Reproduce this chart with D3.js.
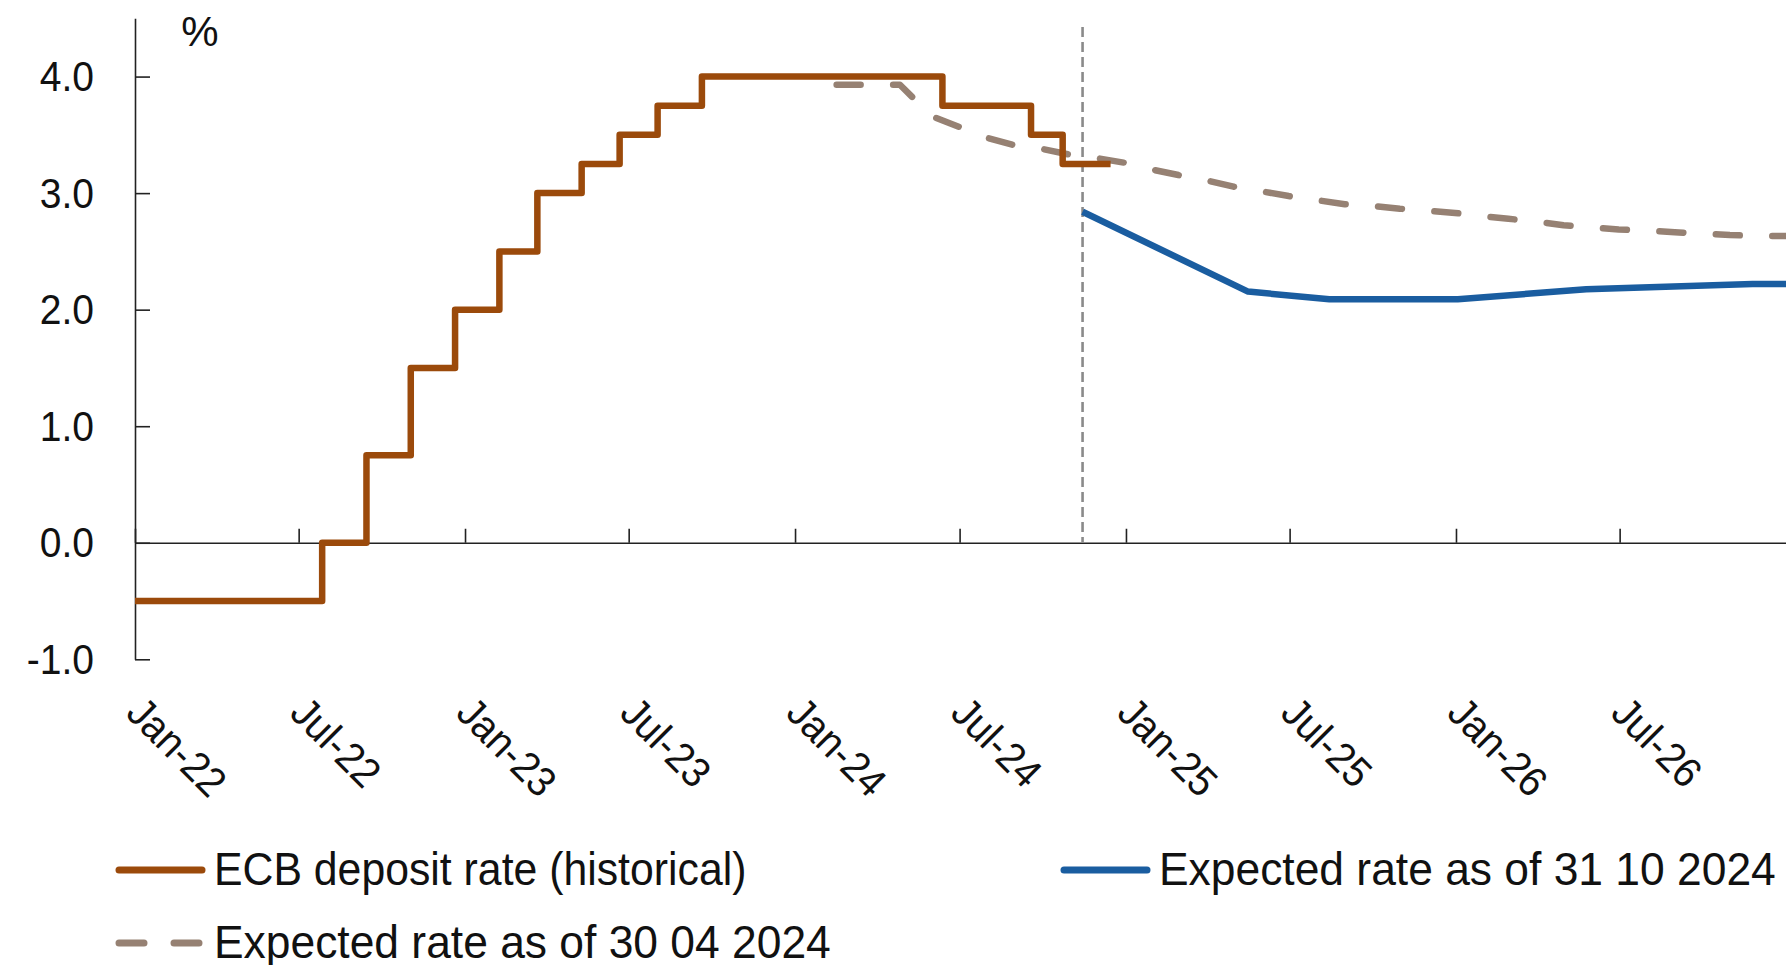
<!DOCTYPE html>
<html>
<head>
<meta charset="utf-8">
<script src="https://cdn.jsdelivr.net/npm/d3@7/dist/d3.min.js"></script>
<style>
  html, body { margin: 0; padding: 0; background: #fff; }
  svg { display: block; }
  text { font-family: "Liberation Sans", Arial, "DejaVu Sans", sans-serif; fill: #111; }
</style>
</head>
<body>
<svg id="chart" width="1786" height="965"></svg>
<script>
// ECB deposit facility rate, step changes (date the new rate applies)
const depositDates = ["2022-01-01", "2022-07-27", "2022-09-14", "2022-11-02", "2022-12-21",
  "2023-02-08", "2023-03-22", "2023-05-10", "2023-06-21", "2023-08-02", "2023-09-20",
  "2024-06-12", "2024-09-18", "2024-10-23", "2024-12-15"];
const depositRates = [-0.5, 0.0, 0.75, 1.5, 2.0, 2.5, 3.0, 3.25, 3.5, 3.75, 4.0, 3.75, 3.5, 3.25, 3.25];

// Market-implied path of the deposit rate as of 30 April 2024
const aprilDates = ["2024-02-16", "2024-04-26", "2024-05-31", "2024-06-30", "2024-07-31",
  "2024-08-31", "2024-09-30", "2024-10-31", "2024-11-30", "2024-12-31", "2025-01-31",
  "2025-02-28", "2025-03-31", "2025-04-30", "2025-05-31", "2025-06-30", "2025-07-31",
  "2025-08-31", "2025-09-30", "2025-10-31", "2025-11-30", "2025-12-31", "2026-01-31",
  "2026-02-28", "2026-03-31", "2026-04-30", "2026-05-31", "2026-06-30", "2026-07-31",
  "2026-08-31", "2026-09-30", "2026-10-31", "2026-11-30", "2027-01-01"];
const aprilRates = [3.93, 3.93, 3.66, 3.57, 3.475, 3.41, 3.38, 3.33, 3.30, 3.26, 3.20,
  3.155, 3.11, 3.055, 3.015, 2.975, 2.94, 2.905, 2.89, 2.866, 2.85, 2.83, 2.80,
  2.78, 2.755, 2.725, 2.705, 2.688, 2.678, 2.665, 2.652, 2.640, 2.634, 2.632];

// Market-implied path as of 31 October 2024
const octoberDates = ["2024-11-14", "2025-05-16", "2025-08-14", "2026-01-03", "2026-05-25",
  "2026-11-25", "2027-01-01"];
const octoberRates = [2.84, 2.155, 2.09, 2.09, 2.175, 2.22, 2.22];

// Separator between history and projection
const cutoffDate = "2024-11-14";

const xTickLabels = ["Jan-22", "Jul-22", "Jan-23", "Jul-23", "Jan-24", "Jul-24",
  "Jan-25", "Jul-25", "Jan-26", "Jul-26"];
const yTickValues = [-1, 0, 1, 2, 3, 4];
const yTickLabels = ["-1.0", "0.0", "1.0", "2.0", "3.0", "4.0"];
const unitLabel = "%";

const seriesNames = ["ECB deposit rate (historical)", "Expected rate as of 30 04 2024",
  "Expected rate as of 31 10 2024"];
const seriesColors = ["#9b4a0b", "#968173", "#1a5da0"];

const parseDate = d3.utcParse("%Y-%m-%d");
const parseTick = d3.utcParse("%b-%y");
const zip = (ds, vs) => ds.map((d, i) => ({ date: parseDate(d), value: vs[i] }));

const deposit = zip(depositDates, depositRates);
const april = zip(aprilDates, aprilRates);
const october = zip(octoberDates, octoberRates);

const svg = d3.select("#chart");

const x = d3.scaleUtc()
  .domain([parseDate("2022-01-01"), parseDate("2027-01-01")])
  .range([135, 1786]);
const y = d3.scaleLinear()
  .domain([-1, 4.5])
  .range([659.3, 18.3]);

const squeeze = "scale(0.93,1)";

// y axis: ticks point into the plot, labels on the left
const yAxis = svg.append("g")
  .attr("transform", `translate(${x.range()[0]},0)`)
  .call(d3.axisLeft(y)
    .tickValues(yTickValues)
    .tickFormat((d, i) => yTickLabels[i])
    .tickSizeInner(-15)
    .tickSizeOuter(0)
    .tickPadding(0));
yAxis.selectAll("path, line").attr("stroke", "#222").attr("stroke-width", 1.6);
yAxis.selectAll("text")
  .attr("x", null).attr("dy", null)
  .attr("font-size", 42)
  .attr("text-anchor", "end")
  .attr("transform", "translate(-41,14) " + squeeze);

// x axis along the zero line, ticks pointing up, rotated labels below the plot
const xTicks = xTickLabels.map(parseTick);
const xAxis = svg.append("g")
  .attr("transform", `translate(0,${y(0)})`)
  .call(d3.axisBottom(x)
    .tickValues(xTicks)
    .tickFormat((d, i) => xTickLabels[i])
    .tickSizeInner(-14)
    .tickSizeOuter(0));
xAxis.selectAll("path, line").attr("stroke", "#222").attr("stroke-width", 1.6);
xAxis.selectAll("text")
  .attr("y", null).attr("dy", null)
  .attr("font-size", 42)
  .attr("text-anchor", "start")
  .attr("transform", `translate(-11,${715 - y(0)}) rotate(45) ` + squeeze);

// unit label
svg.append("text")
  .attr("x", 200).attr("y", 46)
  .attr("font-size", 42)
  .attr("text-anchor", "middle")
  .text(unitLabel);

// projection cut-off marker
svg.append("line")
  .attr("x1", x(parseDate(cutoffDate))).attr("x2", x(parseDate(cutoffDate)))
  .attr("y1", 27).attr("y2", y(0))
  .attr("stroke", "#8a8a8a")
  .attr("stroke-width", 2.6)
  .attr("stroke-dasharray", "10,5");

const line = d3.line().x(d => x(d.date)).y(d => y(d.value));

// expected path, April 2024
svg.append("path")
  .datum(april)
  .attr("d", line)
  .attr("fill", "none")
  .attr("stroke", seriesColors[1])
  .attr("stroke-width", 6.5)
  .attr("stroke-linecap", "round")
  .attr("stroke-linejoin", "round")
  .attr("stroke-dasharray", "24,32.5");

// historical deposit rate
svg.append("path")
  .datum(deposit)
  .attr("d", line.curve(d3.curveStepAfter))
  .attr("fill", "none")
  .attr("stroke", seriesColors[0])
  .attr("stroke-width", 6.5)
  .attr("stroke-linejoin", "round");

// expected path, October 2024
svg.append("path")
  .datum(october)
  .attr("d", d3.line().x(d => x(d.date)).y(d => y(d.value)))
  .attr("fill", "none")
  .attr("stroke", seriesColors[2])
  .attr("stroke-width", 6.5)
  .attr("stroke-linejoin", "round");

// legend
const legendItems = [
  { name: seriesNames[0], color: seriesColors[0], dash: null, lx: 119, ly: 870, sx: 0.93 },
  { name: seriesNames[2], color: seriesColors[2], dash: null, lx: 1064, ly: 870, sx: 0.965 },
  { name: seriesNames[1], color: seriesColors[1], dash: "25,30", lx: 119, ly: 943, sx: 0.965 }
];
const legend = svg.append("g");
legendItems.forEach(item => {
  const g = legend.append("g").attr("transform", `translate(${item.lx},${item.ly})`);
  g.append("line")
    .attr("x1", 0).attr("x2", 83)
    .attr("y1", 0).attr("y2", 0)
    .attr("stroke", item.color)
    .attr("stroke-width", 7)
    .attr("stroke-linecap", "round")
    .attr("stroke-dasharray", item.dash);
  g.append("text")
    .attr("font-size", 46)
    .attr("transform", `translate(${95},${15}) scale(${item.sx},1)`)
    .text(item.name);
});
</script>
</body>
</html>
